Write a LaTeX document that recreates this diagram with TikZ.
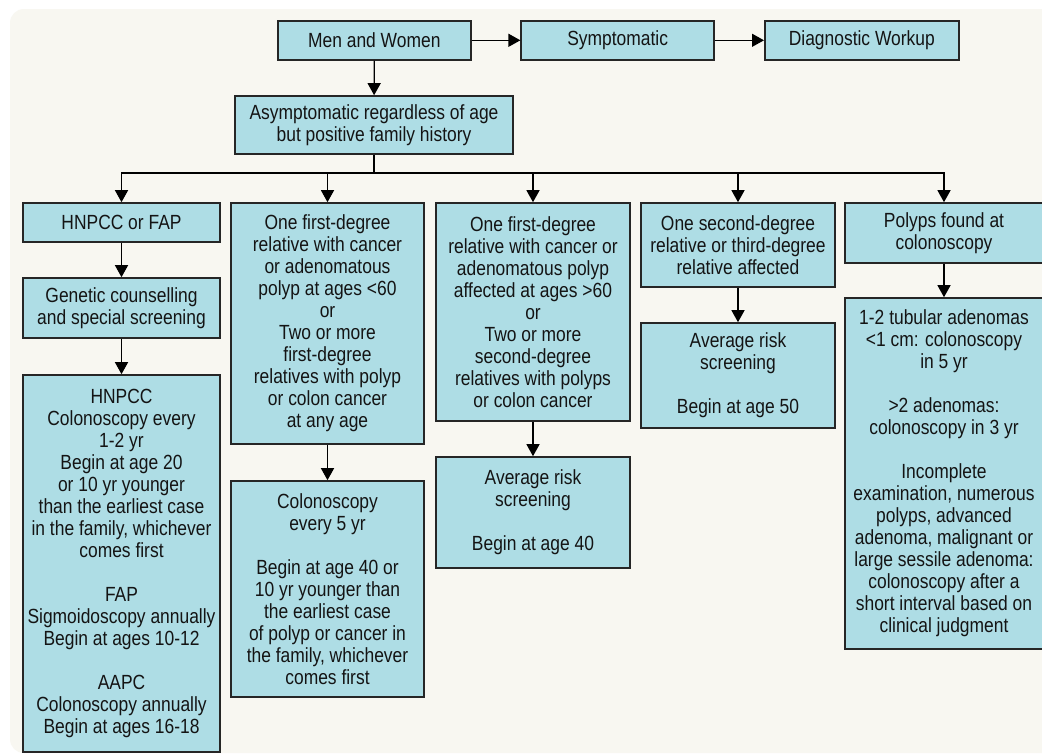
\documentclass[tikz,border=0pt]{standalone}
\usepackage{fontspec}
\setmainfont{Liberation Sans}[FakeStretch=0.85]
\usetikzlibrary{arrows.meta}
\definecolor{boxfill}{HTML}{AEDDE5}
\definecolor{bgcream}{HTML}{F8F7F1}
\definecolor{edge}{HTML}{262626}
\definecolor{txt}{HTML}{141414}
\tikzset{
  flowbox/.style={draw=edge, line width=1.6pt, fill=boxfill, rectangle, inner sep=0pt,
    align=center, text=txt, font=\fontsize{20.5}{22}\selectfont},
  conn/.style={draw=black, line width=1.3pt},
  arr/.style={conn, -{Triangle[length=12pt,width=13pt]}}
}
\begin{document}
\begin{tikzpicture}[x=1pt,y=-1pt]
\useasboundingbox (0,0) rectangle (1042,755);
\clip (0,0) rectangle (1042,755);
\fill[white] (0,0) rectangle (1042,755);
\fill[bgcream, rounded corners=14pt] (10,9) rectangle (1070,753);

% top row
\node[flowbox, minimum width=193pt, minimum height=39pt] (men) at (374.3,40.3) {Men and Women};
\node[flowbox, minimum width=193pt, minimum height=39pt] (sym) at (617.7,40.3) {Symptomatic};
\node[flowbox, minimum width=194pt, minimum height=39pt] (diag) at (861.8,40.3) {Diagnostic Workup};
\node[flowbox, minimum width=278pt, minimum height=58pt] (asym) at (374,125) {Asymptomatic regardless of age\\but positive family history};

% column 1
\node[flowbox, minimum width=197pt, minimum height=39pt] (c1a) at (121.5,222.5) {HNPCC or FAP};
\node[flowbox, minimum width=197pt, minimum height=60pt] (c1b) at (121.5,308) {Genetic counselling\\and special screening};
\node[flowbox, minimum width=197pt, minimum height=377pt] (c1c) at (121.5,563.5) {HNPCC\\Colonoscopy every\\1-2 yr\\Begin at age 20\\or 10 yr younger\\than the earliest case\\in the family, whichever\\comes first\\[22pt]FAP\\Sigmoidoscopy annually\\Begin at ages 10-12\\[22pt]AAPC\\Colonoscopy annually\\Begin at ages 16-18};

% column 2
\node[flowbox, minimum width=193pt, minimum height=241pt] (c2a) at (327.5,323.5) {One first-degree\\relative with cancer\\or adenomatous\\polyp at ages <60\\or\\Two or more\\first-degree\\relatives with polyp\\or colon cancer\\at any age};
\node[flowbox, minimum width=193pt, minimum height=216pt] (c2b) at (327.5,589) {Colonoscopy\\every 5 yr\\[22pt]Begin at age 40 or\\10 yr younger than\\the earliest case\\of polyp or cancer in\\the family, whichever\\comes first};

% column 3
\node[flowbox, minimum width=194pt, minimum height=218pt] (c3a) at (533,312) {One first-degree\\relative with cancer or\\adenomatous polyp\\affected at ages >60\\or\\Two or more\\second-degree\\relatives with polyps\\or colon cancer};
\node[flowbox, minimum width=194pt, minimum height=111pt] (c3b) at (533,512.5) {Average risk\\screening\\[22pt]Begin at age 40};

% column 4
\node[flowbox, minimum width=194pt, minimum height=84pt] (c4a) at (738,245) {One second-degree\\relative or third-degree\\relative affected};
\node[flowbox, minimum width=194pt, minimum height=105pt] (c4b) at (738,375.5) {Average risk\\screening\\[22pt]Begin at age 50};

% column 5
\node[flowbox, minimum width=198pt, minimum height=60pt] (c5a) at (944,233) {Polyps found at\\colonoscopy};
\node[flowbox, minimum width=198pt, minimum height=351pt] (c5b) at (944,473.5) {1-2 tubular adenomas\\<1 cm: colonoscopy\\in 5 yr\\[22pt]>2 adenomas:\\colonoscopy in 3 yr\\[22pt]Incomplete\\examination, numerous\\polyps, advanced\\adenoma, malignant or\\large sessile adenoma:\\colonoscopy after a\\short interval based on\\clinical judgment};

% connectors
\draw[arr] (men) -- (sym);
\draw[arr] (sym) -- (diag);
\draw[arr] (men) -- (asym);
\coordinate (br) at (374,173);
\draw[conn] (asym.south) -- (br);
\draw[arr] (br) -| (c1a.north);
\draw[arr] (br) -| (c2a.north);
\draw[arr] (br) -| (c3a.north);
\draw[arr] (br) -| (c4a.north);
\draw[arr] (br) -| (c5a.north);
\draw[arr] (c1a) -- (c1b);
\draw[arr] (c1b) -- (c1c);
\draw[arr] (c2a) -- (c2b);
\draw[arr] (c3a) -- (c3b);
\draw[arr] (c4a) -- (c4b);
\draw[arr] (c5a) -- (c5b);
\end{tikzpicture}
\end{document}
